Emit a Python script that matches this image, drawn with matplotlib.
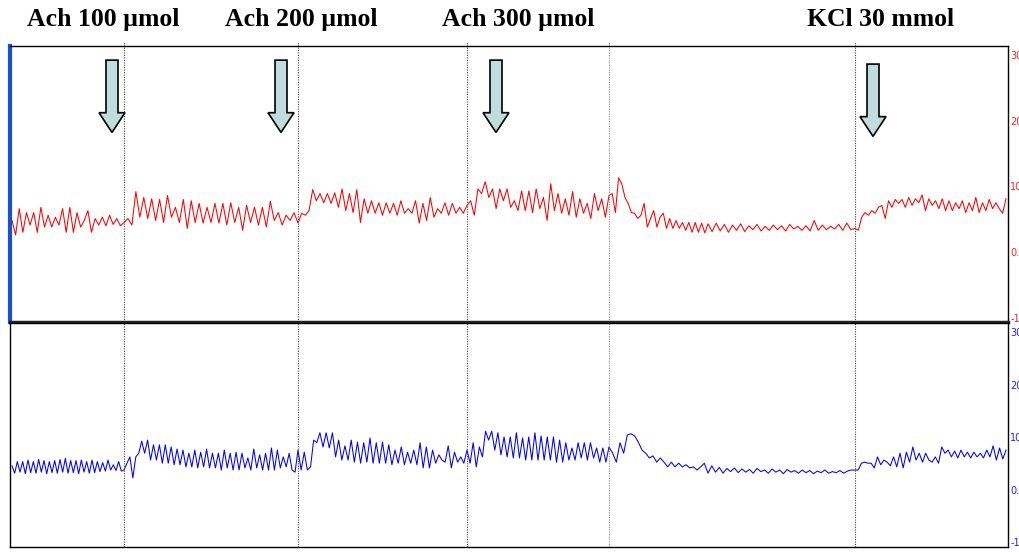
import numpy as np
import matplotlib.pyplot as plt
from matplotlib.patches import FancyArrow

# time in samples; the recording has no x scale shown
breaks = [2, 114, 288, 457, 599, 698, 845, 996]
events = [114, 288, 457, 599, 845]
doses = ["Ach 100 µmol", "Ach 200 µmol", "Ach 300 µmol", "KCl 30 mmol"]
yticks = [-10, 0, 10, 20, 30]

# upper trace (red), one list per segment between breaks
red_a = [4.8, 2.6, 6.6, 3.0, 6.0, 4.1, 6.0, 3.0, 6.8, 3.8, 5.6, 3.8, 5.3, 4.1, 6.6, 3.0,
         6.8, 3.0, 6.0, 3.8, 4.8, 6.3, 3.0, 5.1, 4.1, 5.3, 4.0, 5.6, 4.2, 5.1, 4.0]
red_b = [4.5, 5.1, 4.1, 9.2, 5.3, 8.3, 5.1, 8.1, 4.8, 8.0, 4.5, 8.6, 5.3, 6.8, 4.5, 8.0,
         3.6, 7.8, 4.5, 7.4, 4.4, 6.8, 4.5, 7.4, 4.4, 7.4, 4.1, 7.5, 4.5, 6.8, 3.3, 7.1,
         4.5, 6.8, 4.1, 6.8, 3.8, 7.7, 4.8, 6.0, 4.1, 5.6, 4.8, 6.0]
red_c = [4.4, 5.9, 5.6, 6.3, 9.5, 7.8, 8.9, 7.5, 8.9, 7.4, 9.0, 6.8, 9.6, 6.3, 8.9, 6.0,
         9.5, 4.5, 8.1, 5.9, 7.8, 5.9, 7.5, 5.6, 7.5, 5.9, 7.4, 5.6, 7.8, 5.9, 6.6, 5.9,
         7.8, 4.4, 7.4, 4.8, 8.3, 5.3, 6.6, 5.9, 7.5, 5.6, 7.4, 5.9, 6.8, 5.9]
red_d = [7.1, 7.8, 5.6, 9.6, 8.9, 10.7, 8.3, 9.6, 6.6, 9.6, 7.8, 9.6, 6.8, 7.8, 6.3, 9.3,
         6.3, 9.3, 6.0, 9.6, 6.6, 8.3, 4.8, 10.4, 6.3, 8.9, 5.9, 8.1, 5.6, 9.2, 5.3, 8.1,
         5.9, 7.4, 5.1, 8.9, 6.3, 8.1, 5.3]
red_e = [8.6, 8.9, 6.0, 11.3, 10.4, 8.3, 7.4, 6.0, 5.9, 5.1, 5.6, 7.4, 3.8, 5.1, 6.3, 3.8,
         5.3, 5.9, 3.6, 5.1, 3.6, 4.8, 3.6, 4.5, 3.3, 4.5, 3.0, 4.5, 3.0, 4.4, 2.9]
red_f = [4.3, 3.1, 4.4, 3.2, 4.2, 3.0, 4.1, 3.3, 4.3, 3.1, 4.0, 3.4, 4.2, 3.2, 3.9, 3.3,
         4.1, 3.4, 4.0, 3.2, 4.2, 3.5, 3.9, 3.3, 4.0, 3.2, 4.8, 3.3, 4.1, 3.4, 3.9, 3.5,
         4.2, 3.3, 4.4, 3.4]
red_g = [3.6, 3.3, 5.3, 6.0, 5.6, 6.3, 5.9, 6.8, 7.1, 5.1, 7.8, 6.8, 8.0, 7.4, 8.0, 6.8,
         8.3, 7.1, 8.1, 7.5, 8.7, 6.3, 8.1, 7.1, 7.8, 6.6, 8.1, 6.3, 7.8, 6.3, 7.5, 6.6,
         7.8, 6.0, 7.5, 6.3, 8.3, 6.0, 7.5, 6.3, 8.0, 6.6, 7.5, 6.6, 5.9, 8.1]

# lower trace (blue)
blue_a = [4.6, 3.2, 5.4, 3.4, 5.4, 3.1, 5.7, 3.3, 5.4, 3.2, 5.8, 3.4, 5.6, 3.1, 5.4, 3.3,
          5.6, 3.2, 5.8, 3.4, 6.0, 3.2, 5.6, 3.3, 5.6, 3.1, 5.7, 3.4, 5.4, 3.2, 5.7, 3.3,
          5.4, 3.5, 5.2, 3.6, 5.7, 3.8, 4.8, 3.7, 5.4, 3.6]
blue_b = [3.8, 5.1, 6.3, 2.3, 6.3, 7.0, 9.3, 7.0, 9.5, 5.7, 8.6, 5.7, 8.6, 5.1, 8.6, 5.1,
          8.2, 4.8, 7.8, 4.8, 7.6, 4.4, 7.0, 4.4, 7.6, 4.2, 7.2, 4.4, 7.8, 4.2, 7.0, 4.2,
          7.0, 3.8, 7.6, 4.2, 7.0, 3.8, 7.2, 3.8, 7.0, 4.2, 6.1, 3.8, 7.8, 4.2, 6.7, 3.8,
          7.0, 3.8, 8.0, 3.8, 7.6, 4.2, 6.3, 4.4, 7.0, 3.8, 3.4]
blue_c = [7.6, 3.8, 7.2, 3.8, 4.4, 9.5, 9.0, 10.9, 8.2, 10.9, 8.0, 10.9, 6.3, 9.5, 5.7, 8.4,
          5.7, 9.5, 5.3, 9.1, 5.1, 9.0, 5.3, 9.9, 5.1, 9.0, 5.1, 9.1, 5.1, 8.6, 4.8, 7.6,
          5.1, 8.2, 4.8, 7.2, 5.1, 7.6, 4.8, 9.0, 4.2, 8.2, 4.2, 7.6, 5.1, 6.7, 5.7, 5.3,
          8.4, 4.2, 7.2, 5.3, 6.3, 5.1]
blue_d = [7.6, 5.1, 9.0, 4.4, 8.2, 6.3, 11.2, 9.5, 11.2, 7.6, 10.9, 6.7, 10.1, 6.3, 10.1, 6.1,
          10.9, 6.1, 9.9, 5.7, 10.1, 5.7, 10.9, 5.7, 10.3, 5.7, 10.1, 5.7, 10.1, 5.3, 9.5, 5.3,
          9.0, 5.7, 8.0, 5.7, 9.0, 6.1, 9.0, 5.7, 9.0, 6.1, 8.0, 5.3, 8.0, 5.3]
blue_e = [8.2, 7.0, 5.3, 9.0, 7.0, 10.5, 10.7, 10.3, 9.1, 7.6, 7.0, 6.1, 6.5, 5.3, 6.1, 5.3,
          4.4, 5.3, 4.4, 5.1, 4.4, 4.8, 4.2, 4.4, 3.8, 4.4, 5.1]
blue_f = [3.2, 4.6, 3.4, 4.3, 3.2, 4.1, 3.5, 4.2, 3.3, 4.0, 3.4, 3.9, 3.2, 4.1, 3.5, 3.8,
          3.2, 4.0, 3.4, 3.8, 3.1, 3.9, 3.4, 3.7, 3.2, 3.8, 3.3, 3.7, 3.1, 3.6, 3.3, 3.8,
          3.2, 3.5, 3.3, 3.7, 3.2, 3.6, 3.8]
blue_g = [3.8, 3.8, 5.1, 5.3, 5.1, 5.1, 4.2, 6.3, 4.8, 5.7, 5.3, 4.6, 6.3, 4.4, 7.0, 4.2,
          7.2, 5.3, 8.2, 5.7, 7.0, 5.3, 7.0, 5.7, 5.3, 6.3, 5.1, 8.2, 7.0, 7.6, 6.3, 7.4,
          6.1, 7.6, 6.3, 7.2, 6.1, 7.2, 6.3, 7.0, 6.1, 7.6, 6.3, 8.4, 5.7, 8.0, 5.9, 7.6]


def build(segments):
    tt, vv = [], []
    for i, seg in enumerate(segments):
        last = i == len(segments) - 1
        tt.append(np.linspace(breaks[i], breaks[i + 1], len(seg), endpoint=last))
        vv.append(seg)
    return np.concatenate(tt), np.concatenate(vv)


t_red, v_red = build([red_a, red_b, red_c, red_d, red_e, red_f, red_g])
t_blue, v_blue = build([blue_a, blue_b, blue_c, blue_d, blue_e, blue_f, blue_g])

fig = plt.figure(figsize=(10.19, 5.52), dpi=100)
ax1 = fig.add_axes([10 / 1019, 1 - 322 / 552, 998 / 1019, 276 / 552])
ax2 = fig.add_axes([10 / 1019, 1 - 547 / 552, 998 / 1019, 224 / 552])

ax1.plot(t_red, v_red, color="#ff0000", lw=0.75)
ax2.plot(t_blue, v_blue, color="#0000ff", lw=0.75)

ax1.set_ylim(-10.65, 31.35)
ax2.set_ylim(-10.86, 31.8)

for ax, col in [(ax1, "#ff2020"), (ax2, "#2020ff")]:
    ax.set_xlim(0, 998)
    ax.set_xticks([])
    ax.yaxis.tick_right()
    ax.set_yticks(yticks)
    ax.set_yticklabels([f"{v:.1f}" for v in yticks])
    ax.tick_params(axis="y", length=0, pad=1.5, labelsize=7, labelcolor=col)
    for s in ax.spines.values():
        s.set_color("black")
        s.set_linewidth(1)
    for ev in events:
        c = "#888888" if ev == 599 else "#444444"
        ax.axvline(ev, color=c, lw=0.8, ls=(0, (1, 1.2)))

ax1.spines["left"].set_color("#1a4fd8")
ax1.spines["left"].set_linewidth(3)
ax1.spines["bottom"].set_color("#222222")
ax1.spines["bottom"].set_linewidth(2.5)

# little marks of the event lines above the upper frame
for ev in events:
    ax1.plot([ev, ev], [31.35, 31.95], color="#444444", lw=0.8, ls=(0, (1, 1)), clip_on=False)

# drug application arrows
arrow_t = [102, 271, 486, 863]
arrow_top = [29.2, 29.2, 29.2, 28.6]
for x, top in zip(arrow_t, arrow_top):
    ax1.add_patch(FancyArrow(x, top, 0, -11.0, width=12, head_width=26, head_length=3.0,
                             length_includes_head=True, facecolor="#c0dcdc",
                             edgecolor="black", lw=1.2))

label_x = [103, 301, 518, 881]
for lx, txt in zip(label_x, doses):
    fig.text(lx / 1019, 1 - 26 / 552, txt, ha="center", va="baseline",
             fontsize=18.5, fontweight="bold", family="Liberation Serif")

fig.savefig("out.png", dpi=100)
